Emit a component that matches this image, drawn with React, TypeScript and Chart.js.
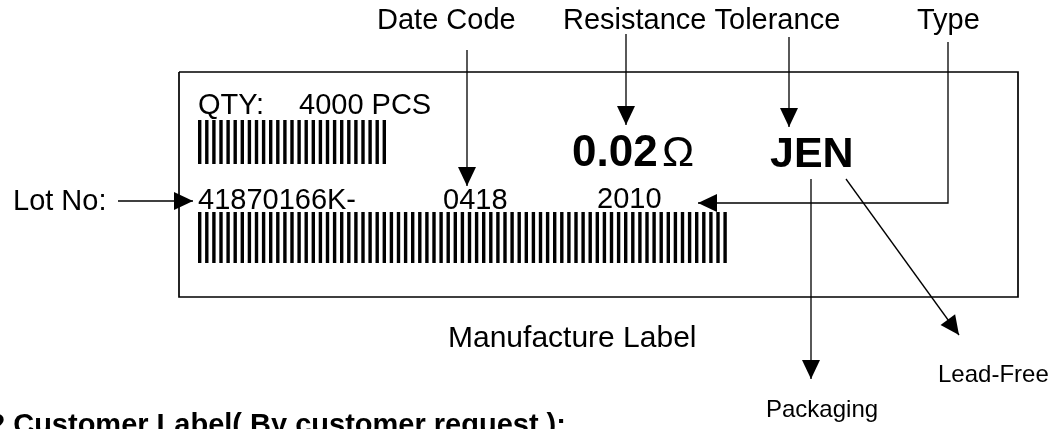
import React, { useEffect, useRef } from "react";
import { Chart, registerables } from "chart.js";

Chart.register(...registerables);

// ---- Diagram data (all in the chart's data units) ----
const X_RANGE = [0, 1057];
const Y_RANGE = [0, 429];

// Outline of the manufacture label
const FRAME_X = [179, 1018, 1018, 179, 179];
const FRAME_Y = [72, 72, 297, 297, 72];

// Callout arrows: polyline, last point is the arrow tip
const ARROW_LABELS = ["Lot No", "Date Code", "Resistance", "Tolerance", "Type", "Packaging", "Lead-Free"];
const ARROW_X = [
  [118, 193],
  [467, 467],
  [626, 626],
  [789, 789],
  [948, 948, 698],
  [811, 811],
  [846, 959],
];
const ARROW_Y = [
  [201, 201],
  [50, 186],
  [34, 125],
  [37, 127],
  [42, 203, 203],
  [179, 379],
  [179, 335],
];

// Barcodes
const BARCODE_ROWS = ["QTY", "Lot"];
const BARCODE_FIRST = [199.7, 199.7];
const BARCODE_BARS = [27, 75];
const BARCODE_TOP = [120, 212];
const BARCODE_BOTTOM = [164, 263];
const BARCODE_PITCH = 7.1;

// Text labels
const LABEL_TEXT = [
  "Date Code",
  "Resistance Tolerance",
  "Type",
  "QTY:",
  "4000 PCS",
  "Lot No:",
  "41870166K-",
  "0418",
  "2010",
  "0.02",
  "\u03A9",
  "JEN",
  "Manufacture Label",
  "Packaging",
  "Lead-Free",
  "2 Customer Label( By customer request ):",
];
const LABEL_X = [377, 563, 917, 198, 299, 13, 198, 443, 597, 572, 662, 770, 448, 766, 938, -11];
const LABEL_Y = [29, 29, 29, 114, 114, 210, 209, 209, 208, 166, 166, 167, 347, 417, 382, 434];
const LABEL_KIND = [
  "plain", "plain", "plain", "plain", "plain", "plain", "plain", "plain", "plain",
  "big", "bigThin", "bigJ", "caption", "small", "small", "heading",
];

const FONT_FAMILY = '"Liberation Sans", Arial, Helvetica, sans-serif';
const KIND_STYLE: Record<string, { size: number; weight: string }> = {
  plain: { size: 29, weight: "normal" },
  caption: { size: 30, weight: "normal" },
  small: { size: 24, weight: "normal" },
  big: { size: 44, weight: "bold" },
  bigJ: { size: 43, weight: "bold" },
  bigThin: { size: 43, weight: "normal" },
  heading: { size: 29, weight: "bold" },
};

const HEAD_LENGTH = 19;
const HEAD_HALF = 9;

const arrowHeads = {
  id: "arrowHeads",
  afterDatasetsDraw(chart: any) {
    const ctx = chart.ctx as CanvasRenderingContext2D;
    ctx.save();
    ctx.fillStyle = "#000";
    chart.data.datasets.forEach((ds: any, i: number) => {
      if (!ds.arrow) return;
      const pts = chart.getDatasetMeta(i).data;
      const a = pts[pts.length - 2];
      const b = pts[pts.length - 1];
      const dx = b.x - a.x;
      const dy = b.y - a.y;
      const len = Math.hypot(dx, dy) || 1;
      const ux = dx / len;
      const uy = dy / len;
      const bx = b.x - ux * HEAD_LENGTH;
      const by = b.y - uy * HEAD_LENGTH;
      ctx.beginPath();
      ctx.moveTo(b.x, b.y);
      ctx.lineTo(bx - uy * HEAD_HALF, by + ux * HEAD_HALF);
      ctx.lineTo(bx + uy * HEAD_HALF, by - ux * HEAD_HALF);
      ctx.closePath();
      ctx.fill();
    });
    ctx.restore();
  },
};

const textLabels = {
  id: "textLabels",
  afterDraw(chart: any) {
    const ctx = chart.ctx as CanvasRenderingContext2D;
    const xs = chart.scales.x;
    const ys = chart.scales.y;
    LABEL_TEXT.forEach((t, i) => {
      const st = KIND_STYLE[LABEL_KIND[i]];
      const px = xs.getPixelForValue(LABEL_X[i]);
      const py = ys.getPixelForValue(LABEL_Y[i]);
      ctx.save();
      ctx.fillStyle = "#000";
      ctx.font = `${st.weight} ${st.size}px ${FONT_FAMILY}`;
      ctx.textAlign = "left";
      ctx.textBaseline = "alphabetic";
      ctx.fillText(t, px, py);
      ctx.restore();
    });
  },
};

export default function App() {
  const ref = useRef<HTMLCanvasElement>(null);

  useEffect(() => {
    document.body.style.margin = "0";
    document.body.style.background = "#fff";
    const canvas = ref.current!;
    const datasets: any[] = [];

    datasets.push({
      type: "line",
      label: "Label frame",
      data: FRAME_X.map((x, i) => ({ x, y: FRAME_Y[i] })),
      borderColor: "#000",
      borderWidth: 1.7,
      pointRadius: 0,
      fill: false,
      tension: 0,
    });

    ARROW_X.forEach((xsArr, k) => {
      datasets.push({
        type: "line",
        label: ARROW_LABELS[k],
        arrow: true,
        data: xsArr.map((x, i) => ({ x, y: ARROW_Y[k][i] })),
        borderColor: "#000",
        borderWidth: 1.3,
        pointRadius: 0,
        fill: false,
        tension: 0,
      });
    });

    const bars: any[] = [];
    BARCODE_ROWS.forEach((_, r) => {
      for (let i = 0; i < BARCODE_BARS[r]; i++) {
        bars.push({ x: BARCODE_FIRST[r] + i * BARCODE_PITCH, y: [BARCODE_TOP[r], BARCODE_BOTTOM[r]] });
      }
    });
    datasets.push({
      type: "bar",
      label: "Barcodes",
      data: bars,
      backgroundColor: "#000",
      borderWidth: 0,
      borderSkipped: false,
      inflateAmount: 0,
      barThickness: 3.4,
    });

    const chart = new Chart(canvas, {
      type: "scatter",
      data: { datasets },
      options: {
        animation: false,
        responsive: false,
        devicePixelRatio: 1,
        events: [],
        layout: { padding: 0 },
        plugins: { legend: { display: false }, tooltip: { enabled: false } },
        scales: {
          x: { type: "linear", min: X_RANGE[0], max: X_RANGE[1], display: false, offset: false },
          y: { type: "linear", min: Y_RANGE[0], max: Y_RANGE[1], reverse: true, display: false, offset: false },
        },
      },
      plugins: [arrowHeads, textLabels],
    } as any);

    return () => chart.destroy();
  }, []);

  return <canvas ref={ref} width={1057} height={429} style={{ display: "block" }} />;
}
